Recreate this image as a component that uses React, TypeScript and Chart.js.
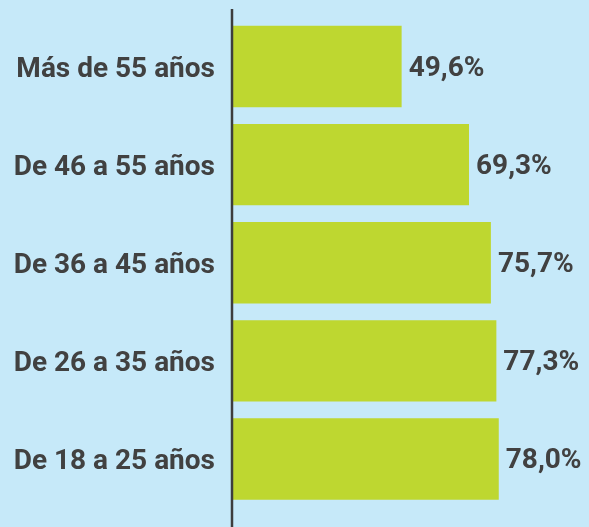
import React, { useEffect, useRef } from "react";
import { Chart, registerables } from "chart.js";

Chart.register(...registerables);

const categories = ["Más de 55 años", "De 46 a 55 años", "De 36 a 45 años", "De 26 a 35 años", "De 18 a 25 años"];
const values = [49.6, 69.3, 75.7, 77.3, 78.0];
const valueLabels = ["49,6%", "69,3%", "75,7%", "77,3%", "78,0%"];

const BG = "#c6e9f9";
const BAR = "#bed730";
const TEXT = "#414141";
const FONT = "Roboto, 'Noto Sans', sans-serif";

export default function App() {
  const ref = useRef<HTMLCanvasElement | null>(null);

  useEffect(() => {
    document.body.style.margin = "0";
    document.body.style.background = BG;
    const canvas = ref.current!;
    const overlay = {
      id: "overlay",
      afterDatasetsDraw(chart: any) {
        const ctx = chart.ctx;
        const xs = chart.scales.x;
        const x0 = xs.getPixelForValue(0);
        ctx.save();
        ctx.strokeStyle = "#3d3d3d";
        ctx.lineWidth = 2.5;
        ctx.beginPath();
        ctx.moveTo(x0, 9);
        ctx.lineTo(x0, chart.height);
        ctx.stroke();
        const meta = chart.getDatasetMeta(0);
        ctx.fillStyle = TEXT;
        ctx.font = `bold 28px ${FONT}`;
        ctx.textAlign = "left";
        ctx.textBaseline = "middle";
        meta.data.forEach((bar: any, i: number) => {
          ctx.fillText(valueLabels[i], bar.x + 7, bar.y + 2);
        });
        ctx.restore();
      },
    };
    const chart = new Chart(canvas, {
      type: "bar",
      data: {
        labels: categories,
        datasets: [
          {
            data: values,
            backgroundColor: BAR,
            borderWidth: 0,
            barPercentage: 0.83,
            categoryPercentage: 1,
          },
        ],
      },
      options: {
        indexAxis: "y",
        animation: false,
        responsive: false,
        maintainAspectRatio: false,
        layout: { padding: { top: 0, bottom: 0, right: 15, left: 0 } },
        plugins: { legend: { display: false }, tooltip: { enabled: false } },
        scales: {
          x: { display: false, min: 0, max: 100 },
          y: {
            afterFit(scale: any) {
              scale.width = 232;
              scale.paddingTop = 17.5;
              scale.paddingBottom = 19;
            },
            grid: { display: false, drawTicks: false },
            border: { display: false },
            ticks: {
              padding: 17,
              labelOffset: 3,
              color: TEXT,
              font: { family: FONT, size: 28, weight: "bold" },
            },
          },
        },
      },
      plugins: [overlay],
    });
    return () => chart.destroy();
  }, []);

  return <canvas ref={ref} width={589} height={527} style={{ display: "block", background: BG }} />;
}
